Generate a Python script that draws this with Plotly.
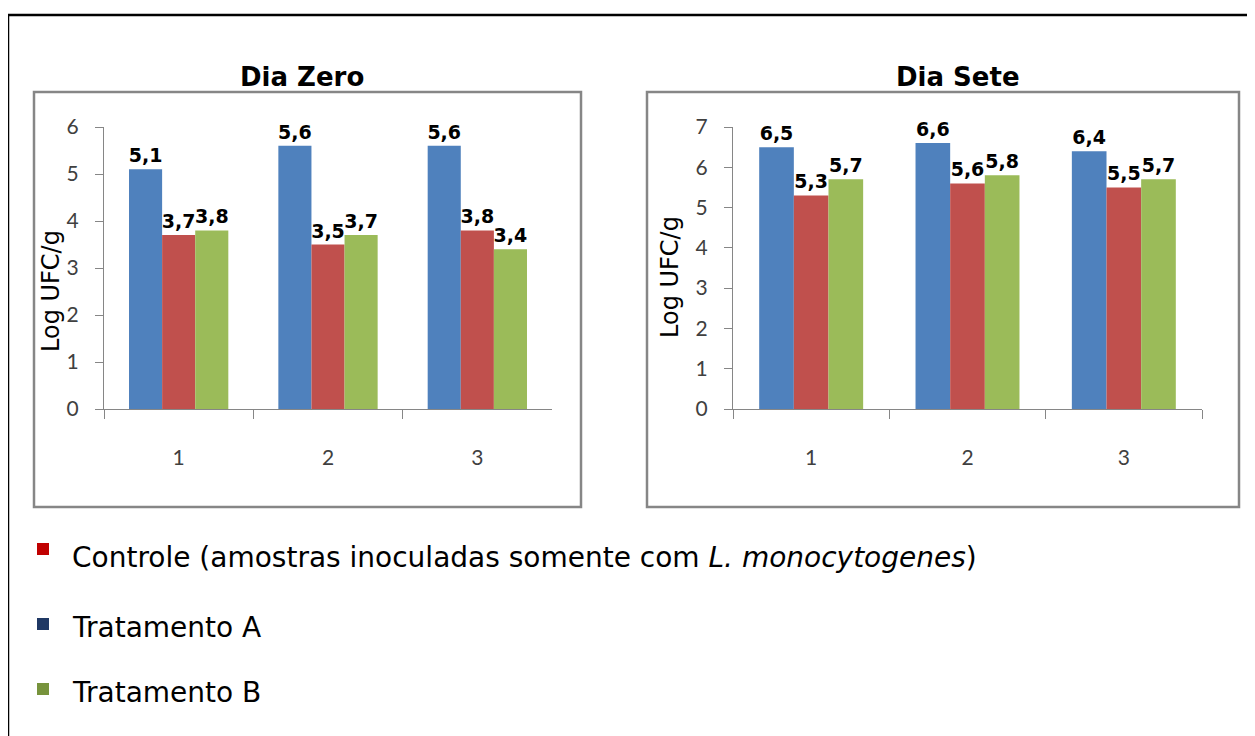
import plotly.graph_objects as go

W, H = 1255, 736
OFF = 8  # default page body margin

categories = ["1", "2", "3"]
series_names = ["Tratamento A", "Controle", "Tratamento B"]
day0_trat_a = [5.1, 5.6, 5.6]
day0_controle = [3.7, 3.5, 3.8]
day0_trat_b = [3.8, 3.7, 3.4]
day7_trat_a = [6.5, 6.6, 6.4]
day7_controle = [5.3, 5.6, 5.5]
day7_trat_b = [5.7, 5.8, 5.7]
day0_ticks = [0, 1, 2, 3, 4, 5, 6]
day7_ticks = [0, 1, 2, 3, 4, 5, 6, 7]
bar_colors = ["#4F81BD", "#C0504D", "#9BBB59"]
legend_labels = ["Controle (amostras inoculadas somente com <i>L. monocytogenes</i>)",
                 "Tratamento A", "Tratamento B"]
legend_colors = ["#C00000", "#1F3864", "#77933C"]
titles = ["Dia Zero", "Dia Sete"]
y_title = "Log UFC/g"


def px(x):
    return (x - OFF) / W


def py(y):
    return 1 - (y - OFF) / H


def fmt(v):
    return f"{v:.1f}".replace(".", ",")


fig = go.Figure()
for xa, ya, data in [("x", "y", [day0_trat_a, day0_controle, day0_trat_b]),
                     ("x2", "y2", [day7_trat_a, day7_controle, day7_trat_b])]:
    for name, vals, col in zip(series_names, data, bar_colors):
        fig.add_trace(go.Bar(
            x=categories, y=vals, name=name, xaxis=xa, yaxis=ya,
            marker=dict(color=col, line=dict(width=0)),
            text=[fmt(v) for v in vals], textposition="outside",
            textfont=dict(family="DejaVu Sans", size=19, color="black", weight="bold"),
            constraintext="none", cliponaxis=False, showlegend=False,
        ))

axis_col = "#868686"
tickfont = dict(family="Lato", size=21, color="#404040")

common_x = dict(type="category", range=[-0.5, 2.5], showline=True, linecolor=axis_col,
                linewidth=1, ticks="outside", tickson="boundaries", ticklen=9,
                tickcolor=axis_col, showgrid=False, zeroline=False, tickfont=tickfont,
                ticklabelstandoff=30, automargin=False)
common_y = dict(showline=True, linecolor=axis_col, linewidth=1, ticks="outside",
                ticklen=8, tickcolor=axis_col, showgrid=False, zeroline=False,
                tickfont=tickfont, ticklabelstandoff=12, automargin=False)

fig.update_layout(
    width=W, height=H, autosize=False,
    margin=dict(l=0, r=0, t=0, b=0, autoexpand=False),
    paper_bgcolor="white", plot_bgcolor="white", showlegend=False,
    barmode="group", bargap=0.335, bargroupgap=0,
    xaxis=dict(domain=[px(104), px(552)], anchor="y", **common_x),
    yaxis=dict(domain=[py(409), py(127)], anchor="x", range=[0, 6],
               tickvals=day0_ticks, **common_y),
    xaxis2=dict(domain=[px(733), px(1202)], anchor="y2", **common_x),
    yaxis2=dict(domain=[py(409), py(127)], anchor="x2", range=[0, 7],
                tickvals=day7_ticks, **common_y),
)

shapes = []
# outer black frame
shapes.append(dict(type="rect", xref="paper", yref="paper",
                   x0=px(8), x1=px(1300), y0=py(800), y1=py(15),
                   line=dict(color="black", width=2.5)))
# chart boxes
for x0, x1 in [(34, 581), (647, 1239)]:
    shapes.append(dict(type="rect", xref="paper", yref="paper",
                       x0=px(x0), x1=px(x1), y0=py(507), y1=py(92),
                       line=dict(color=axis_col, width=2.5), layer="below"))
# legend squares
for yc, col in zip([549, 624, 689], legend_colors):
    shapes.append(dict(type="rect", xref="paper", yref="paper",
                       x0=px(37), x1=px(49), y0=py(yc + 6), y1=py(yc - 6),
                       line=dict(width=0), fillcolor=col))
fig.update_layout(shapes=shapes)

ann = []
for t, xc in zip(titles, [302, 958]):
    ann.append(dict(text=t, xref="paper", yref="paper", x=px(xc), y=py(77),
                    xanchor="center", yanchor="middle", showarrow=False,
                    font=dict(family="DejaVu Sans", size=26, color="black", weight="bold")))
for xc, yc in [(51, 291), (670, 277)]:
    ann.append(dict(text=y_title, xref="paper", yref="paper", x=px(xc), y=py(yc),
                    xanchor="center", yanchor="middle", showarrow=False, textangle=-90,
                    font=dict(family="DejaVu Sans", size=24, color="black")))
for lab, yc in zip(legend_labels, [557, 627, 692]):
    ann.append(dict(text=lab, xref="paper", yref="paper", x=px(70), y=py(yc),
                    xanchor="left", yanchor="middle", showarrow=False,
                    font=dict(family="DejaVu Sans", size=28, color="black")))
fig.update_layout(annotations=ann)

fig.write_html("out.html")
